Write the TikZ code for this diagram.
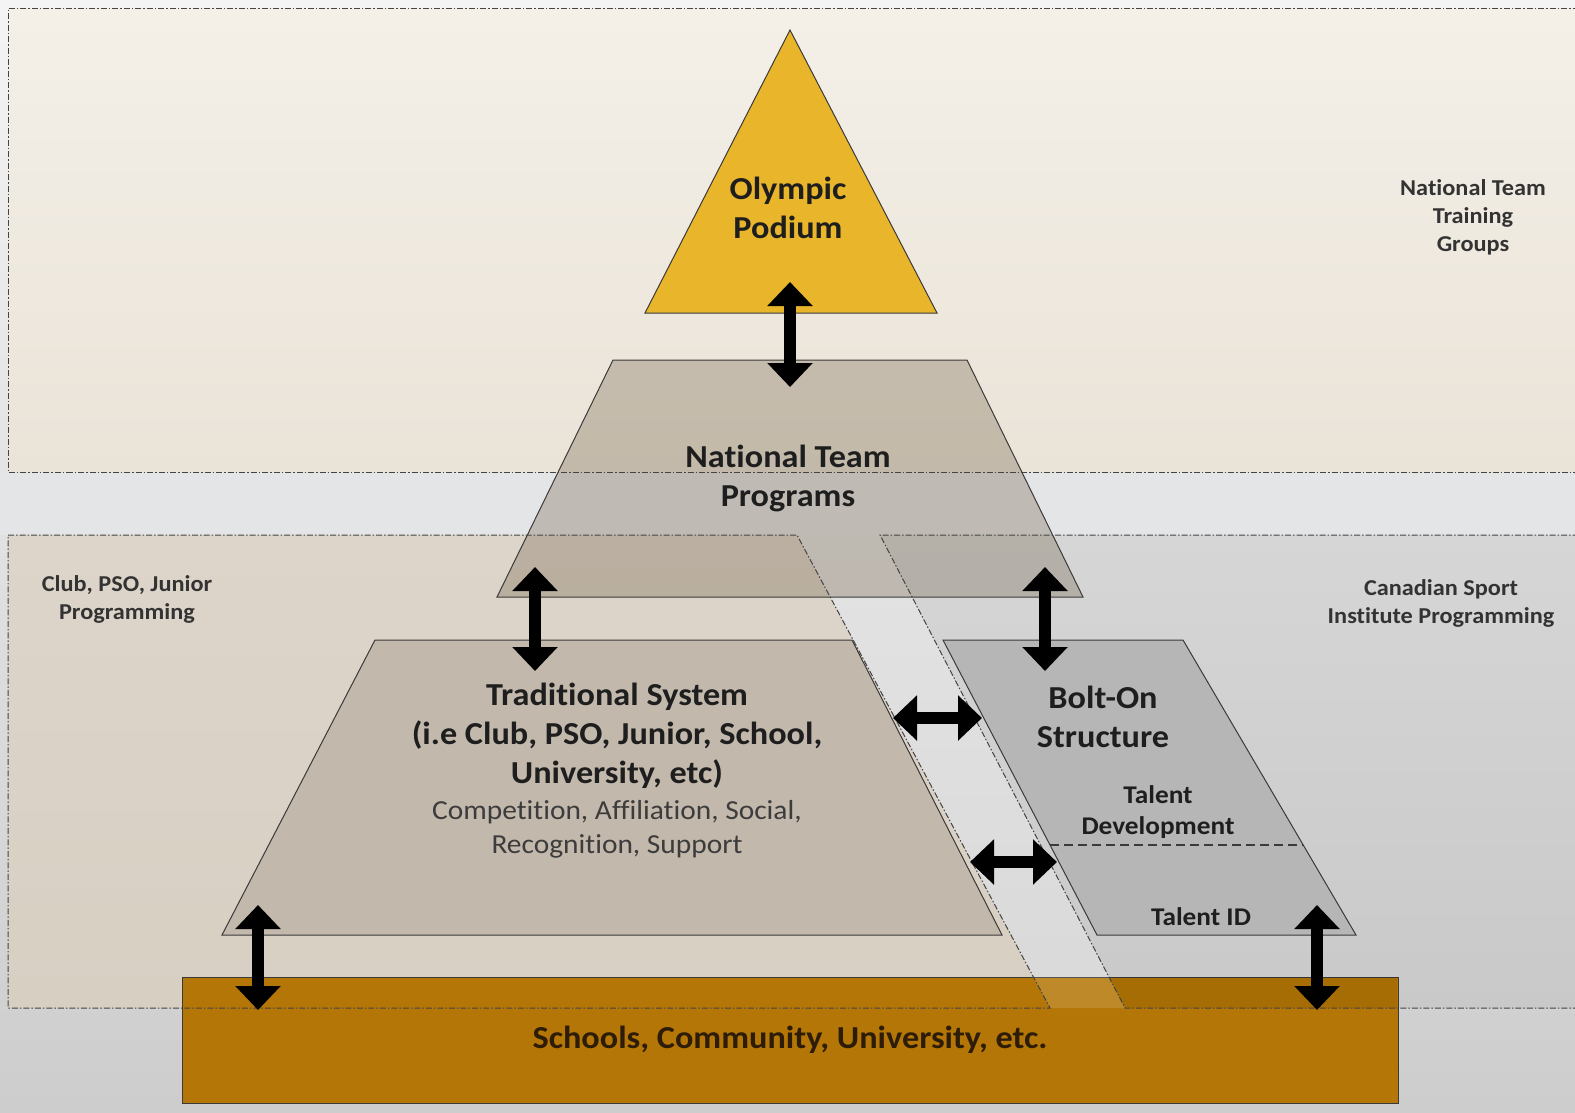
\documentclass[tikz,border=0pt]{standalone}
\usepackage{fontspec}
\setmainfont{Carlito}[FakeStretch=1.07, Ligatures=NoCommon]
\usetikzlibrary{arrows.meta}
\definecolor{bgtop}{HTML}{F4F4F4}
\definecolor{bgbot}{HTML}{CDCDCD}
\definecolor{creamtop}{HTML}{F4F0E8}
\definecolor{creambot}{HTML}{EAE3D8}
\definecolor{bandgray}{HTML}{E4E5E7}
\definecolor{lefttop}{HTML}{DDD5CA}
\definecolor{leftbot}{HTML}{D8CFC3}
\definecolor{righttop}{HTML}{D6D6D6}
\definecolor{rightbot}{HTML}{C9C9C9}
\definecolor{slanttop}{HTML}{E3E3E3}
\definecolor{slantbot}{HTML}{D9D9D9}
\definecolor{gold}{HTML}{E8B52B}
\definecolor{schoolfill}{HTML}{B47606}
\definecolor{tradfill}{HTML}{C2B8AC}
\definecolor{boltfill}{HTML}{B6B6B6}
\definecolor{ntpfill}{HTML}{6B5A40}
\definecolor{txt}{HTML}{1E1E1E}
\definecolor{txtgray}{HTML}{333333}
\definecolor{medgray}{HTML}{3C3C3C}
\definecolor{edge}{HTML}{3A3A3A}
\definecolor{regedge}{HTML}{444444}
\begin{document}
\begin{tikzpicture}[x=1pt,y=-1pt,
  bigtext/.style={font=\fontsize{32}{39}\selectfont\bfseries, text=txt, align=center, inner sep=0pt},
  medtext/.style={font=\fontsize{27.5}{34}\selectfont, text=medgray, align=center, inner sep=0pt},
  talenttext/.style={font=\fontsize{25.5}{31}\selectfont\bfseries, text=txt, align=center, inner sep=0pt},
  smalltext/.style={font=\fontsize{22.7}{28}\selectfont\bfseries, text=txtgray, align=center, inner sep=0pt},
  shapeedge/.style={draw=edge, line width=1pt},
  regline/.style={draw=regedge, line width=1pt, dash pattern=on 6pt off 2pt on 1.5pt off 2pt},
  dblarrow/.style={line width=12pt, {Triangle[width=44pt,length=24pt]}-{Triangle[width=44pt,length=24pt]}}
]
\useasboundingbox (0,0) rectangle (1575,1112);
\clip (0,0) rectangle (1575,1112);

% canvas
\shade[top color=bgtop, bottom color=bgbot] (0,0) rectangle (1575,1112);
\fill[bandgray] (0,472) rectangle (1575,535);

% regions
\shade[top color=creamtop, bottom color=creambot] (8,8) rectangle (1590,472);
\shade[top color=lefttop, bottom color=leftbot] (8,535) -- (797,535) -- (1050,1008) -- (8,1008) -- cycle;
\shade[top color=slanttop, bottom color=slantbot] (797,535) -- (880,535) -- (1125,1008) -- (1050,1008) -- cycle;
\shade[top color=righttop, bottom color=rightbot] (880,535) -- (1590,535) -- (1590,1008) -- (1125,1008) -- cycle;

% base box
\node[shapeedge, fill=schoolfill, minimum width=1216pt, minimum height=126pt, inner sep=0pt,
      font=\fontsize{32}{38}\selectfont\bfseries, text={rgb,255:red,45;green,28;blue,8}] (schools) at (790,1040) {Schools, Community, University, etc.};
\fill[white, opacity=0.14] (1033,977) -- (1109,977) -- (1125,1008) -- (1050,1008) -- cycle;
\fill[black, opacity=0.07] (1109,977) -- (1397,977) -- (1397,1008) -- (1125,1008) -- cycle;

% shapes
\path[shapeedge, fill=tradfill] (375,640) -- (852,640) -- (1002,935) -- (222,935) -- cycle;
\path[shapeedge, fill=boltfill] (943,640) -- (1183,640) -- (1356,935) -- (1097,935) -- cycle;
\draw[edge, line width=1.2pt, dash pattern=on 9pt off 5pt] (1050,845) -- (1303,845);
\path[shapeedge, fill=ntpfill, fill opacity=0.3] (613,360) -- (967,360) -- (1083,597) -- (497,597) -- cycle;
\path[shapeedge, fill=gold] (790,30) -- (937,313) -- (645,313) -- cycle;

% region outlines
\draw[regline] (1590,8) -- (8,8) -- (8,472) -- (1590,472);
\draw[regline] (8,535) -- (797,535) -- (1050,1008) -- (8,1008) -- cycle;
\draw[regline] (1590,535) -- (880,535) -- (1125,1008) -- (1590,1008);

% texts
\node[bigtext] (op) at (788,208) {Olympic\\Podium};
\node[bigtext] (ntp) at (788,478) {National Team\\Programs};
\node[bigtext] (trad) at (617,736) {Traditional System\\(i.e Club, PSO, Junior, School,\\University, etc)};
\node[medtext] (tradsub) at (617,829) {Competition, Affiliation, Social,\\Recognition, Support};
\node[bigtext] (bolt) at (1103,717) {Bolt-On\\Structure};
\node[talenttext] (tdev) at (1158,812) {Talent\\Development};
\node[talenttext] (tid) at (1201,917) {Talent ID};
\node[smalltext] (nttg) at (1473,217) {National Team\\Training\\Groups};
\node[smalltext] (club) at (127,599) {Club, PSO, Junior\\Programming};
\node[smalltext] (csi) at (1441,603) {Canadian Sport\\Institute Programming};

% arrow end points
\coordinate (a1t) at (790,282); \coordinate (a1b) at (790,387);
\coordinate (a2t) at (535,567); \coordinate (a2b) at (535,671);
\coordinate (a3t) at (1045,567); \coordinate (a3b) at (1045,671);
\coordinate (a4t) at (258,905); \coordinate (a4b) at (258,1010);
\coordinate (a5t) at (1317,905); \coordinate (a5b) at (1317,1010);
\coordinate (a6l) at (893,718); \coordinate (a6r) at (982,718);
\coordinate (a7l) at (970,862); \coordinate (a7r) at (1057,862);

\draw[dblarrow] (a1t) -- (a1b);
\draw[dblarrow] (a2t) -- (a2b);
\draw[dblarrow] (a3t) -- (a3b);
\draw[dblarrow] (a4t) -- (a4b);
\draw[dblarrow] (a5t) -- (a5b);
\draw[dblarrow] (a6l) -- (a6r);
\draw[dblarrow] (a7l) -- (a7r);
\end{tikzpicture}
\end{document}
